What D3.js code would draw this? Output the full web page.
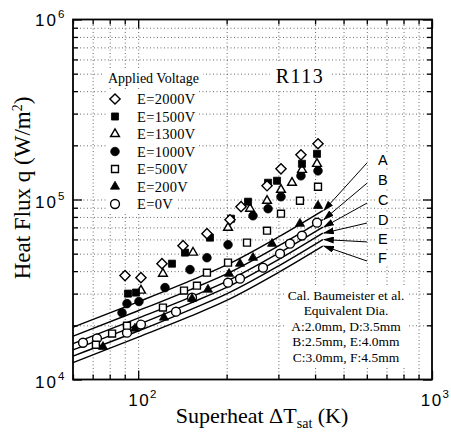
<!DOCTYPE html>
<html><head><meta charset="utf-8">
<script src="https://cdn.jsdelivr.net/npm/d3@7"></script>
<style>body{margin:0;background:#fff} svg{display:block}</style>
</head><body>
<svg id="c" width="451" height="432"></svg>
<script>
// ---------------- data ----------------
const xMajorTicks = [100, 1000];
const xMajorExp = ["2", "3"];
const xMinorTicks = [60, 70, 80, 90, 200, 300, 400, 500, 600, 700, 800, 900];
const yMajorTicks = [1e4, 1e5, 1e6];
const yMajorExp = ["4", "5", "6"];
const yMinorTicks = [2e4, 3e4, 4e4, 5e4, 6e4, 7e4, 8e4, 9e4, 2e5, 3e5, 4e5, 5e5, 6e5, 7e5, 8e5, 9e5];

const seriesNames = ["E=2000V", "E=1500V", "E=1300V", "E=1000V", "E=500V", "E=200V", "E=0V"];
const dT_2000 = [90.2, 102.2, 120.5, 142.1, 171.4, 205.4, 223.9, 274.5, 306.2, 358.1, 409.3];
const q_2000  = [3.78e4, 3.68e4, 4.40e4, 5.54e4, 6.46e4, 7.72e4, 9.12e4, 1.192e5, 1.481e5, 1.771e5, 2.04e5];
const dT_1500 = [92.3, 98.3, 130.3, 144.3, 175.5, 207, 236.5, 276.7, 296.8, 361, 406.1];
const q_1500  = [3.00e4, 3.04e4, 4.40e4, 5.07e4, 6.14e4, 7.82e4, 9.72e4, 1.239e5, 1.271e5, 1.579e5, 1.794e5];
const dT_1300 = [102.2, 121.4, 153.7, 202.2, 240.3, 274.5, 306.2, 333.8, 361, 406.1];
const q_1300  = [3.12e4, 3.87e4, 5.07e4, 6.97e4, 8.89e4, 9.84e4, 1.133e5, 1.239e5, 1.462e5, 1.579e5];
const dT_1000 = [88.1, 91.6, 100.6, 123.4, 150.1, 171.4, 202.2, 245.9, 276.7, 306.2, 358.1, 409.3];
const q_1000  = [2.35e4, 2.64e4, 2.71e4, 3.24e4, 4.08e4, 4.75e4, 5.61e4, 8.12e4, 8.89e4, 1.036e5, 1.354e5, 1.443e5];
const dT_500  = [71.8, 81.5, 91.6, 121.4, 143.2, 158.5, 171.4, 202.2, 234.6, 274.5, 306.2, 355.3, 409.3];
const q_500   = [1.56e4, 1.80e4, 1.99e4, 2.51e4, 3.12e4, 3.32e4, 3.92e4, 4.46e4, 5.76e4, 6.71e4, 8.34e4, 9.84e4, 1.177e5];
const dT_200  = [75.9, 97.5, 122.4, 152.5, 172.8, 203.8, 222.1, 245.9, 285.5, 355.3, 409.3];
const q_200   = [1.52e4, 1.92e4, 2.21e4, 2.81e4, 3.16e4, 3.87e4, 4.40e4, 4.75e4, 5.68e4, 7.34e4, 9.23e4];
const dT_0    = [64.9, 72.4, 91.6, 102.2, 134.5, 152.5, 202.2, 222.1, 266, 303.9, 328.6, 361, 406.1];
const q_0     = [1.60e4, 1.69e4, 1.82e4, 2.02e4, 2.38e4, 2.85e4, 3.45e4, 3.63e4, 4.18e4, 5.00e4, 5.68e4, 6.30e4, 7.43e4];

// Baumeister et al. calculated lines
const lineDT = [60, 100, 150, 200, 300, 425];
const lineA = [1.95e4, 2.70e4, 3.53e4, 4.33e4, 6.19e4, 8.68e4];
const lineB = [1.74e4, 2.41e4, 3.15e4, 3.86e4, 5.52e4, 7.74e4];
const lineC = [1.58e4, 2.19e4, 2.86e4, 3.51e4, 5.02e4, 7.03e4];
const lineD = [1.46e4, 2.02e4, 2.65e4, 3.25e4, 4.64e4, 6.51e4];
const lineE = [1.35e4, 1.86e4, 2.44e4, 2.99e4, 4.27e4, 5.99e4];
const lineF = [1.24e4, 1.72e4, 2.24e4, 2.75e4, 3.93e4, 5.51e4];
const lineLabels = ["A", "B", "C", "D", "E", "F"];
const lineLabelQ = [1.66e5, 1.28e5, 9.93e4, 7.69e4, 6.04e4, 4.73e4];
const leaderStartDT = 601;
const labelDT = 655;

const legendTitle = "Applied Voltage";
const chartTitle = "R113";
const calText = ["Cal. Baumeister et al.", "Equivalent Dia.", "A:2.0mm, D:3.5mm", "B:2.5mm, E:4.0mm", "C:3.0mm, F:4.5mm"];

// ---------------- drawing ----------------
const SERIF = "'Liberation Serif','Times New Roman',serif";
const SANS = "'Liberation Sans',Arial,Helvetica,sans-serif";
const svg = d3.select("#c");
const L = 73, R = 432, T = 19.5, B = 379.5;
const x = d3.scaleLog().domain([60, 1000]).range([L, R]);
const y = d3.scaleLog().domain([1e4, 1e6]).range([B, T]);

// grid
const gridX = xMinorTicks.filter(v => v > 60).concat([100]);
const gridY = yMinorTicks.concat([1e5]);
const gx = svg.append("g").attr("transform", `translate(0,${B})`)
  .call(d3.axisBottom(x).tickValues(gridX).tickSize(-(B - T)).tickFormat(""));
const gy = svg.append("g").attr("transform", `translate(${L},0)`)
  .call(d3.axisLeft(y).tickValues(gridY).tickSize(-(R - L)).tickFormat(""));
[gx, gy].forEach(g => {
  g.select(".domain").remove();
  g.selectAll("line").attr("stroke", "#444").attr("stroke-width", 0.8).attr("stroke-dasharray", "1,2.5");
});

// ticks on all four sides (inward)
function ticks(axisFn, scale, vals, size, tr) {
  const g = svg.append("g").attr("transform", tr)
    .call(axisFn(scale).tickValues(vals).tickSize(-size).tickFormat(""));
  g.select(".domain").remove();
  g.selectAll("line").attr("stroke", "#000").attr("stroke-width", 1.3);
}
ticks(d3.axisBottom, x, xMinorTicks, 5, `translate(0,${B})`);
ticks(d3.axisBottom, x, xMajorTicks, 9, `translate(0,${B})`);
ticks(d3.axisTop, x, xMinorTicks, 5, `translate(0,${T})`);
ticks(d3.axisTop, x, xMajorTicks, 9, `translate(0,${T})`);
ticks(d3.axisLeft, y, yMinorTicks, 5, `translate(${L},0)`);
ticks(d3.axisLeft, y, yMajorTicks, 9, `translate(${L},0)`);
ticks(d3.axisRight, y, yMinorTicks, 5, `translate(${R},0)`);
ticks(d3.axisRight, y, yMajorTicks, 9, `translate(${R},0)`);

// calculated lines
const lineGen = d3.line().x(d => x(d[0])).y(d => y(d[1])).curve(d3.curveMonotoneX);
const calLines = [lineA, lineB, lineC, lineD, lineE, lineF];
calLines.forEach(arr => {
  svg.append("path").datum(lineDT.map((t, i) => [t, arr[i]]))
    .attr("d", lineGen).attr("fill", "none").attr("stroke", "#000").attr("stroke-width", 1.4);
});

// white boxes behind annotation texts (drawn before texts)
const bgLayer = svg.append("g");

// leader lines with arrowheads
svg.append("defs").append("marker").attr("id", "arr")
  .attr("markerUnits", "userSpaceOnUse").attr("markerWidth", 11).attr("markerHeight", 7)
  .attr("refX", 10).attr("refY", 3.5).attr("orient", "auto")
  .append("path").attr("d", "M0,0 L11,3.5 L0,7 Z").attr("fill", "#000");
calLines.forEach((arr, i) => {
  const endQ = arr[arr.length - 1], endT = lineDT[lineDT.length - 1];
  svg.append("line")
    .attr("x1", x(leaderStartDT)).attr("y1", y(lineLabelQ[i]) + 3)
    .attr("x2", x(endT) + 1).attr("y2", y(endQ))
    .attr("stroke", "#000").attr("stroke-width", 1).attr("marker-end", "url(#arr)");
  const t = svg.append("text").attr("x", x(labelDT)).attr("y", y(lineLabelQ[i]) + 5)
    .attr("font-family", SANS).attr("font-size", 14.5).text(lineLabels[i]);
  const bb = t.node().getBBox();
  bgLayer.append("rect").attr("x", bb.x - 2).attr("y", bb.y).attr("width", bb.width + 4).attr("height", bb.height).attr("fill", "#fff");
});

// data markers
const symDefs = [
  {type: d3.symbolSquare, size: 52, rot: 45, filled: false},
  {type: d3.symbolSquare, size: 50, rot: 0, filled: true},
  {type: d3.symbolTriangle, size: 34, rot: 0, filled: false},
  {type: d3.symbolCircle, size: 58, rot: 0, filled: true},
  {type: d3.symbolSquare, size: 48, rot: 0, filled: false},
  {type: d3.symbolTriangle, size: 36, rot: 0, filled: true},
  {type: d3.symbolCircle, size: 62, rot: 0, filled: false}
];
const seriesDT = [dT_2000, dT_1500, dT_1300, dT_1000, dT_500, dT_200, dT_0];
const seriesQ = [q_2000, q_1500, q_1300, q_1000, q_500, q_200, q_0];
function drawSym(g, def, cx, cy) {
  g.append("path").attr("d", d3.symbol(def.type, def.size)())
    .attr("transform", `translate(${cx},${cy}) rotate(${def.rot})`)
    .attr("fill", def.filled ? "#000" : "#fff").attr("stroke", "#000").attr("stroke-width", def.filled ? 0.8 : 1.4);
}
const dataG = svg.append("g");
[6, 5, 4, 3, 2, 1, 0].forEach(s => {
  seriesDT[s].forEach((t, i) => drawSym(dataG, symDefs[s], x(t), y(seriesQ[s][i])));
});

// legend
const lg = svg.append("g");
const lt = lg.append("text").attr("x", 108).attr("y", 83).attr("font-family", SERIF).attr("font-size", 14)
  .text(legendTitle);
let bb = lt.node().getBBox();
bgLayer.append("rect").attr("x", bb.x - 4).attr("y", bb.y - 2).attr("width", bb.width + 8).attr("height", bb.height + 4).attr("fill", "#fff");
seriesNames.forEach((nm, i) => {
  const cy = 99 + 17.5 * i;
  drawSym(lg, symDefs[i], 115, cy);
  const t = lg.append("text").attr("x", 137).attr("y", cy + 5).attr("font-family", SERIF)
    .attr("font-size", 14.5).attr("letter-spacing", 0.3).text(nm);
  const b = t.node().getBBox();
  bgLayer.append("rect").attr("x", 106).attr("y", cy - 8.75).attr("width", b.x + b.width + 3 - 106).attr("height", 17.5).attr("fill", "#fff");
});

// chart title
const ct = svg.append("text").attr("x", 300).attr("y", 83).attr("text-anchor", "middle")
  .attr("font-family", SERIF).attr("font-size", 20).attr("letter-spacing", 1.5).text(chartTitle);
bb = ct.node().getBBox();
bgLayer.append("rect").attr("x", bb.x - 6).attr("y", bb.y - 3).attr("width", bb.width + 12).attr("height", bb.height + 6).attr("fill", "#fff");

// calculation note
const calG = svg.append("g");
calText.forEach((s, i) => {
  calG.append("text").attr("x", 346).attr("y", 299.5 + 15.5 * i).attr("text-anchor", "middle")
    .attr("font-family", SERIF).attr("font-size", 13.5).text(s);
});
bb = calG.node().getBBox();
bgLayer.append("rect").attr("x", bb.x - 3).attr("y", bb.y - 2).attr("width", bb.width + 6).attr("height", bb.height + 4).attr("fill", "#fff");

// frame
svg.append("rect").attr("x", L).attr("y", T).attr("width", R - L).attr("height", B - T)
  .attr("fill", "none").attr("stroke", "#000").attr("stroke-width", 1.8);

// tick labels
xMajorTicks.forEach((v, i) => {
  const t = svg.append("text").attr("x", x(v) + (i === 0 ? -10 : -6)).attr("y", 406)
    .attr("font-family", SANS).attr("font-size", 17).attr("letter-spacing", 1.5);
  t.append("tspan").text("10");
  t.append("tspan").attr("dy", -8).attr("font-size", 11.5).attr("letter-spacing", 0).text(xMajorExp[i]);
  const b = t.node().getBBox();
  if (b.x + b.width > 449) t.attr("x", +t.attr("x") - (b.x + b.width - 449));
});
yMajorTicks.forEach((v, i) => {
  const t = svg.append("text").attr("x", 35).attr("y", y(v) + (i === 2 ? 6 : 8))
    .attr("font-family", SANS).attr("font-size", 17).attr("letter-spacing", 2);
  t.append("tspan").text("10");
  t.append("tspan").attr("dy", -8).attr("font-size", 11.5).attr("letter-spacing", 0).text(yMajorExp[i]);
});

// axis titles
const xt = svg.append("text").attr("x", 262).attr("y", 423).attr("text-anchor", "middle")
  .attr("font-family", SERIF).attr("font-size", 22);
xt.append("tspan").text("Superheat \u0394T");
xt.append("tspan").attr("dy", 5).attr("font-size", 14).text("sat");
xt.append("tspan").attr("dy", -5).text(" (K)");

const yt = svg.append("text").attr("transform", "translate(30,188) rotate(-90)").attr("text-anchor", "middle")
  .attr("font-family", SERIF).attr("font-size", 23);
yt.append("tspan").text("Heat Flux q (W/m");
yt.append("tspan").attr("dy", -8).attr("font-size", 14).text("2");
yt.append("tspan").attr("dy", 8).text(")");
</script>
</body></html>
